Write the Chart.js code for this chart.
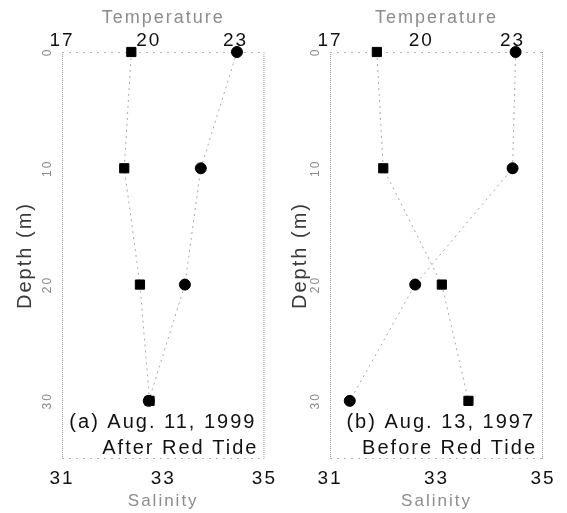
<!DOCTYPE html>
<html>
<head>
<meta charset="utf-8">
<script src="https://cdn.jsdelivr.net/npm/chart.js@4"></script>
<style>
    html, body { margin: 0; padding: 0; background: #fff; }
    #wrap { position: relative; width: 567px; height: 513px; overflow: hidden; }
    .panel { position: absolute; top: 0; height: 513px; }
</style>
</head>
<body>
<div id="wrap">
    <div class="panel" style="left:0;width:283px"><canvas id="chart-a"></canvas></div>
    <div class="panel" style="left:275px;width:292px"><canvas id="chart-b"></canvas></div>
</div>
<script>
// depth profiles
const depths = [0, 10, 20, 30];
const tempA = [23.05, 21.8, 21.25, 20.0];
const salA = [32.37, 32.23, 32.54, 32.73];
const tempB = [23.1, 23.0, 19.8, 17.65];
const salB = [31.88, 32.0, 33.1, 33.6];

const depthTicks = [0, 10, 20, 30];
const tempTicks = [17, 20, 23];
const salTicks = [31, 33, 35];

const notesA = ['(a) Aug. 11, 1999', 'After Red Tide'];
const notesB = ['(b) Aug. 13, 1997', 'Before Red Tide'];

const FONT = "'Liberation Sans', Arial, sans-serif";

const panelDecor = {
    id: 'panelDecor',
    beforeDraw(chart) {
        chart.ctx.letterSpacing = '2px';
    },
    beforeDatasetsDraw(chart) {
        const { ctx, chartArea: a } = chart;
        ctx.save();
        ctx.strokeStyle = '#9a9a9a';
        ctx.lineWidth = 1;

        // side frame, dense dots
        ctx.setLineDash([1, 1]);
        ctx.beginPath();
        ctx.moveTo(a.left + 0.5, a.top); ctx.lineTo(a.left + 0.5, a.bottom);
        ctx.moveTo(a.right - 0.5, a.top); ctx.lineTo(a.right - 0.5, a.bottom);
        ctx.stroke();

        // top / bottom frame, sparse dots
        ctx.strokeStyle = '#b5b5b5';
        ctx.setLineDash([2, 5]);
        ctx.beginPath();
        ctx.moveTo(a.left, a.top + 0.5); ctx.lineTo(a.right, a.top + 0.5);
        ctx.moveTo(a.left, a.bottom - 0.5); ctx.lineTo(a.right, a.bottom - 0.5);
        ctx.stroke();

        // rotated depth tick labels
        const ys = chart.scales.depth;
        ctx.fillStyle = '#8a8a8a';
        ctx.font = '12px ' + FONT;
        ctx.textAlign = 'center';
        ctx.textBaseline = 'middle';
        ys.ticks.forEach(t => {
            const y = ys.getPixelForValue(t.value);
            ctx.save();
            ctx.translate(a.left - 14, y);
            ctx.rotate(-Math.PI / 2);
            ctx.fillText(String(t.label), 0, 0);
            ctx.restore();
        });
        ctx.restore();
    },
    afterDatasetsDraw(chart, args, opts) {
        const { ctx, chartArea: a } = chart;
        const notes = opts.notes || [];
        ctx.save();
        ctx.fillStyle = '#111';
        ctx.font = '20px ' + FONT;
        ctx.textAlign = 'right';
        ctx.textBaseline = 'middle';
        if (notes[0]) ctx.fillText(notes[0], a.right - 8, a.bottom - 37);
        if (notes[1]) ctx.fillText(notes[1], a.right - 6, a.bottom - 11);
        ctx.restore();
    }
};

function makePanel(canvasId, temps, sals, notes, axisWidth, rightPad) {
    const lineStyle = {
        showLine: true,
        clip: false,
        borderColor: '#a8a8a8',
        borderWidth: 1,
        borderDash: [2, 4],
        pointBackgroundColor: '#000',
        pointBorderColor: '#000',
        yAxisID: 'depth'
    };

    return new Chart(document.getElementById(canvasId), {
        type: 'scatter',
        data: {
            datasets: [
                Object.assign({
                    label: 'Temperature',
                    data: depths.map((d, i) => ({ x: temps[i], y: d })),
                    xAxisID: 'temp',
                    pointStyle: 'circle',
                    pointRadius: 5.5
                }, lineStyle),
                Object.assign({
                    label: 'Salinity',
                    data: depths.map((d, i) => ({ x: sals[i], y: d })),
                    xAxisID: 'sal',
                    pointStyle: 'rect',
                    pointRadius: 6.5
                }, lineStyle)
            ]
        },
        options: {
            responsive: true,
            maintainAspectRatio: false,
            animation: false,
            layout: { padding: { left: 0, right: rightPad, top: 0, bottom: 0 } },
            plugins: {
                legend: { display: false },
                tooltip: { enabled: false },
                panelDecor: { notes: notes }
            },
            scales: {
                depth: {
                    type: 'linear',
                    axis: 'y',
                    position: 'left',
                    reverse: true,
                    min: 0,
                    max: 35,
                    afterBuildTicks: s => { s.ticks = depthTicks.map(v => ({ value: v })); },
                    ticks: { display: false },
                    grid: { display: false, drawTicks: false },
                    border: { display: false },
                    title: {
                        display: true,
                        text: 'Depth (m)',
                        color: '#3a3a3a',
                        font: { size: 20, family: FONT },
                        padding: { top: 13, bottom: 0 }
                    },
                    afterFit: s => { s.width = axisWidth; }
                },
                temp: {
                    type: 'linear',
                    axis: 'x',
                    position: 'top',
                    min: 17,
                    max: 24,
                    afterBuildTicks: s => { s.ticks = tempTicks.map(v => ({ value: v })); },
                    ticks: { color: '#111', font: { size: 19, family: FONT }, padding: 0, maxRotation: 0, autoSkip: false },
                    grid: { display: false, drawTicks: false },
                    border: { display: false },
                    title: {
                        display: true,
                        text: 'Temperature',
                        color: '#8c8c8c',
                        font: { size: 18, family: FONT },
                        padding: { top: 7, bottom: 0 }
                    },
                    afterFit: s => { s.height = 52; }
                },
                sal: {
                    type: 'linear',
                    axis: 'x',
                    position: 'bottom',
                    min: 31,
                    max: 35,
                    afterBuildTicks: s => { s.ticks = salTicks.map(v => ({ value: v })); },
                    ticks: { color: '#111', font: { size: 19, family: FONT }, padding: 8, maxRotation: 0, autoSkip: false },
                    grid: { display: false, drawTicks: false },
                    border: { display: false },
                    title: {
                        display: true,
                        text: 'Salinity',
                        color: '#8c8c8c',
                        font: { size: 17, family: FONT },
                        padding: { top: 0, bottom: 1 }
                    },
                    afterFit: s => { s.height = 54; }
                }
            }
        },
        plugins: [panelDecor]
    });
}

makePanel('chart-a', tempA, salA, notesA, 62, 13);
makePanel('chart-b', tempB, salB, notesB, 55, 24);
</script>
</body>
</html>
